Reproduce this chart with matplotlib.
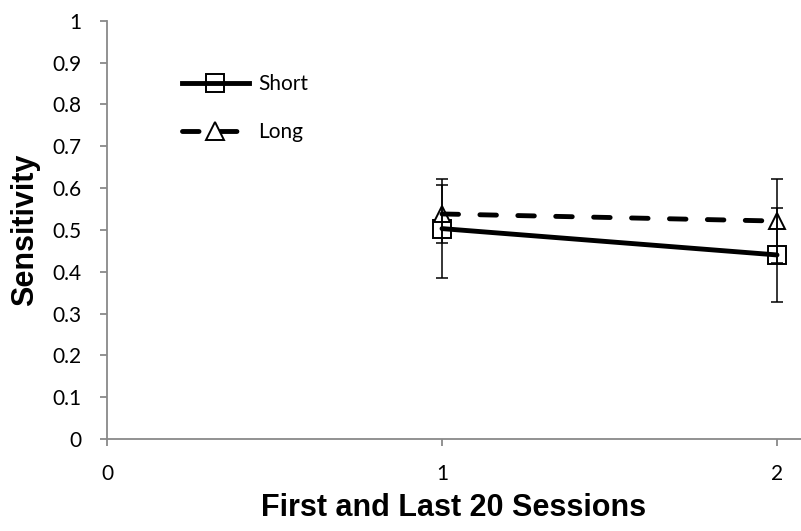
import matplotlib
matplotlib.use("Agg")
import matplotlib.pyplot as plt
from matplotlib.lines import Line2D
from matplotlib.legend_handler import HandlerTuple

# Data
sessions = [1, 2]
short_vals = [0.503, 0.440]
short_err = [0.118, 0.112]
long_vals = [0.538, 0.521]
long_err = [0.069, 0.100]
series_labels = ["Short", "Long"]
x_ticks = [0, 1, 2]
y_ticks = [0, 0.1, 0.2, 0.3, 0.4, 0.5, 0.6, 0.7, 0.8, 0.9, 1.0]
y_tick_labels = ["0", "0.1", "0.2", "0.3", "0.4", "0.5", "0.6", "0.7", "0.8", "0.9", "1"]

TICK_FONT = "Lato"
LABEL_FONT = "Liberation Sans"
GRAY = "#898989"

fig = plt.figure(figsize=(8.01, 5.31), dpi=100)
ax = fig.add_axes([107 / 801, 1 - 439 / 531, (801 - 107) / 801, (439 - 20.7) / 531])

ax.set_xlim(0, 2 * (801 - 107) / (777 - 107))
ax.set_ylim(0, 1)

lw = 3.5
dash = (0, (3.4, 4.4))

# markers (below the lines)
ax.plot(sessions, short_vals, linestyle="none", marker="s", ms=12.5, mfc="white",
        mec="black", mew=1.4, zorder=2)
ax.plot(sessions, long_vals, linestyle="none", marker="^", ms=12, mfc="white",
        mec="black", mew=1.4, zorder=2)
# lines
ax.plot(sessions, short_vals, color="black", lw=lw, solid_capstyle="round", zorder=3)
ax.plot(sessions, long_vals, color="black", lw=lw, linestyle=dash,
        dash_capstyle="round", zorder=3)
# error bars
ax.errorbar(sessions, short_vals, yerr=short_err, fmt="none", ecolor="black",
            elinewidth=1.1, capsize=4.3, capthick=1.1, zorder=4)
ax.errorbar(sessions, long_vals, yerr=long_err, fmt="none", ecolor="black",
            elinewidth=1.1, capsize=4.3, capthick=1.1, zorder=4)

# spines
for s in ["top", "right"]:
    ax.spines[s].set_visible(False)
for s in ["left", "bottom"]:
    ax.spines[s].set_color(GRAY)
    ax.spines[s].set_linewidth(1.3)

ax.set_xticks(x_ticks)
ax.set_xticklabels([str(t) for t in x_ticks], fontsize=15, family=TICK_FONT)
ax.set_yticks(y_ticks)
ax.set_yticklabels(y_tick_labels, fontsize=15, family=TICK_FONT)
ax.tick_params(axis="both", direction="out", length=5.2, width=1.3, color=GRAY)
ax.tick_params(axis="y", pad=13)
ax.tick_params(axis="x", pad=13)

ax.set_xlabel("First and Last 20 Sessions", fontsize=22, fontweight="bold",
              family=LABEL_FONT, labelpad=6)
ax.set_ylabel("Sensitivity", fontsize=22, fontweight="bold", family=LABEL_FONT,
              labelpad=9)

# legend
h_short = (Line2D([], [], linestyle="none", marker="s", ms=12.5, mfc="white", mec="black", mew=1.4),
           Line2D([], [], color="black", lw=lw))
h_long = (Line2D([], [], color="black", lw=lw, linestyle=dash, dash_capstyle="round"),
          Line2D([], [], linestyle="none", marker="^", ms=12.5, mfc="white", mec="black", mew=1.4))
leg = fig.legend([h_short, h_long], series_labels,
                 handler_map={tuple: HandlerTuple(ndivide=1, pad=0)},
                 loc="upper left", bbox_to_anchor=(182 / 801, 1 - 74 / 531),
                 frameon=False, borderpad=0, borderaxespad=0,
                 handlelength=3.2, handletextpad=0.45, labelspacing=1.35,
                 prop={"family": TICK_FONT, "size": 15})

fig.savefig("out.png", dpi=100)
